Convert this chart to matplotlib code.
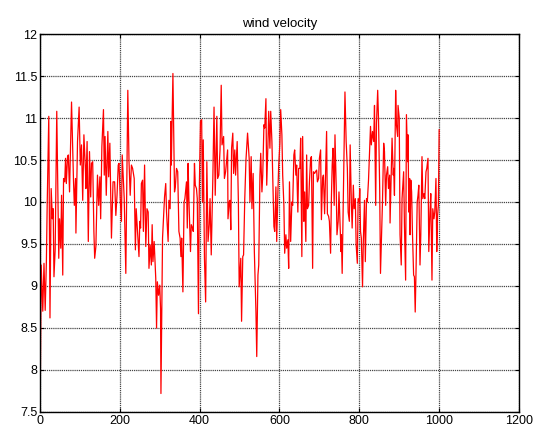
import matplotlib
matplotlib.use('Agg')
import matplotlib.pyplot as plt

plt.rcParams['font.family'] = ['Liberation Sans', 'DejaVu Sans']

# sample index / wind velocity
t = [1, 3, 7, 10, 13, 16, 18, 22, 25, 28, 31, 33, 35, 38, 42, 47, 49, 52, 54, 57,
     59, 62, 64, 66, 69, 71, 74, 79, 84, 86, 89, 90, 94, 98, 101, 104, 107, 110, 114, 115,
     118, 121, 124,
     127, 129, 132, 135, 137, 140, 144, 147, 150, 152, 155, 159, 161, 163, 166, 170, 172, 175, 179, 183,
     187, 190, 193, 196, 198, 201, 204, 206, 211, 215, 220, 223, 226, 229, 232, 236, 239, 241,
     248, 250, 252, 254, 257, 259, 262, 265, 268, 271, 273, 276, 279, 281, 283, 286, 290, 292,
     294, 297, 300, 302, 303, 307, 311, 312, 315, 317, 321, 323, 326, 328, 329, 331, 333, 337,
     339, 342, 345, 348, 351, 353, 355, 358, 361, 363, 367, 369,
     371, 373, 377, 379, 382, 384, 387, 389, 392, 394, 397, 399, 402, 405, 407, 409, 412, 415,
     418, 421, 424, 426, 429, 433, 436, 439, 443, 445, 448, 451, 454, 456, 460, 462, 465, 470,
     471, 474, 476, 478, 480, 483, 485, 488, 490, 494, 497, 499,
     503, 505, 508, 510, 513, 516, 520, 524, 526, 529, 531, 534, 537, 541, 543, 546, 548, 551,
     553, 556, 558, 561, 563, 566, 568, 571, 573, 576, 578, 581, 583, 586, 588, 591, 593, 596,
     598, 601, 603, 606, 608, 611, 613, 616, 618, 621, 623, 625,
     628, 631, 633, 636, 638, 641, 643, 646, 648, 651, 653, 656, 658, 661, 663, 666, 668, 670,
     673, 675, 678, 680, 683, 685, 688, 690, 693, 695, 698, 700, 703, 705, 708, 710, 713, 715,
     718, 720, 723, 725, 728, 730, 732, 734, 737, 739, 742, 744, 747, 749,
     754, 755, 757, 759, 762, 764, 767, 770, 772, 775, 777, 780, 782, 785, 787, 790, 792, 795,
     797, 800, 801, 803, 805, 808, 810, 813, 815, 818, 820, 823, 825, 828, 830, 833, 836, 838,
     841, 843, 846, 848, 851, 853, 856, 858, 861, 863, 866, 868, 871, 873, 876,
     877, 880, 882, 885, 886, 888, 891, 893, 896, 897, 900, 902, 905, 907, 911, 913, 916, 918,
     921, 922, 924, 926, 927, 929, 931, 933, 936, 938, 940, 942, 945, 947, 949, 952, 954, 957,
     959, 962, 964, 967, 969, 972, 974, 977, 979, 982, 984, 987, 989, 992, 994, 996, 998, 1000]

velocity = [7.95, 9.25, 8.70, 9.27, 8.71, 9.29, 9.96, 11.02, 8.62, 10.16, 9.80, 9.92, 9.11, 9.43, 11.08, 9.33, 9.80, 9.45, 10.08, 9.13,
            10.28, 10.24, 10.52, 10.22, 10.54, 10.56, 10.12, 11.19, 10.24, 9.96, 10.28, 9.63, 10.72, 11.13, 10.44, 10.68, 10.02, 10.80, 10.36, 10.16,
            10.72, 9.53, 10.60,
            10.06, 10.46, 10.48, 9.65, 9.33, 9.47, 10.32, 9.96, 10.30, 9.80, 10.66, 11.10, 10.32, 10.78, 10.08, 10.84, 10.30, 10.70, 9.57, 10.24,
            10.24, 9.84, 10.08, 10.44, 10.46, 10.04, 9.77, 10.56, 10.04, 9.15, 11.33, 10.48, 10.08, 10.44, 10.40, 10.28, 9.43, 9.92,
            9.35, 9.77, 9.69, 10.22, 10.26, 9.65, 10.44, 9.47, 9.92, 9.88, 9.21, 9.49, 9.25, 9.73, 9.29, 9.53, 9.09, 8.50,
            9.05, 8.89, 9.01, 8.73, 7.72, 9.57, 9.96, 10.06, 10.22, 9.88, 9.53, 10.02, 9.92, 10.96, 10.44, 10.98, 11.53, 10.12,
            10.18, 10.40, 10.36, 9.65, 9.57, 9.35, 9.57, 8.93, 10.00, 10.04, 10.24, 9.69,
            10.46, 10.04, 9.41, 9.73, 9.69, 9.65, 10.46, 10.20, 10.16, 10.04, 8.67, 10.12, 10.96, 10.98, 10.00, 10.74, 9.33, 8.81,
            10.48, 9.53, 9.73, 10.04, 9.37, 10.28, 11.13, 10.08, 11.02, 10.28, 10.32, 10.62, 11.39, 10.68, 10.78, 10.28, 10.36, 10.62,
            9.80, 10.00, 10.02, 9.67, 10.64, 10.82, 10.34, 10.62, 10.32, 10.72, 10.00, 8.99,
            9.33, 8.58, 9.35, 9.37, 10.04, 10.50, 10.82, 10.52, 10.00, 10.54, 9.92, 10.34, 9.41, 8.69, 8.16, 9.13, 9.25, 10.32,
            10.58, 10.12, 10.32, 10.92, 10.88, 11.23, 10.20, 10.68, 11.08, 10.64, 11.08, 10.72, 10.32, 9.71, 9.65, 10.18, 9.53, 10.12,
            10.44, 10.70, 11.10, 10.80, 10.32, 9.96, 9.39, 9.61, 9.45, 9.55, 9.21, 10.24,
            9.53, 10.00, 9.96, 10.56, 10.62, 10.32, 10.44, 9.88, 10.40, 10.40, 10.76, 9.35, 10.78, 9.77, 10.12, 9.53, 10.56, 9.92,
            9.96, 10.24, 10.52, 10.54, 9.21, 10.36, 10.34, 10.36, 10.38, 10.24, 10.28, 10.52, 10.62, 9.79, 10.28, 10.32, 9.86, 10.26,
            10.84, 9.86, 9.83, 9.77, 9.39, 10.04, 10.44, 10.64, 9.96, 10.80, 10.20, 9.61, 9.77, 10.12,
            9.41, 9.61, 9.15, 9.77, 10.64, 11.31, 10.72, 10.40, 9.88, 9.77, 10.68, 10.00, 9.69, 10.20, 9.92, 10.04, 9.49, 9.27,
            10.04, 10.00, 10.16, 9.65, 9.57, 8.99, 9.53, 10.02, 9.29, 10.04, 10.00, 10.26, 10.52, 10.90, 10.68, 10.84, 10.72, 11.15,
            9.96, 10.94, 11.33, 11.00, 10.16, 9.15, 9.65, 10.00, 10.70, 10.60, 9.96, 10.32, 10.42, 10.16, 10.32,
            9.75, 10.36, 10.76, 10.32, 10.40, 10.08, 11.33, 10.92, 10.78, 11.15, 11.00, 9.61, 9.25, 10.04, 10.36, 9.73, 9.07, 11.04,
            10.48, 10.80, 9.88, 10.28, 9.61, 10.26, 10.12, 9.65, 9.13, 9.11, 8.69, 9.17, 10.00, 10.08, 10.20, 9.25, 9.61, 10.54,
            10.04, 10.10, 10.04, 10.36, 10.40, 10.52, 9.41, 9.88, 10.10, 9.07, 9.92, 9.80, 9.88, 10.28, 9.41, 9.84, 9.96, 10.86]

xticks = [0, 200, 400, 600, 800, 1000, 1200]
yticks = [7.5, 8, 8.5, 9, 9.5, 10, 10.5, 11, 11.5, 12]
ytick_labels = ['7.5', '8', '8.5', '9', '9.5', '10', '10.5', '11', '11.5', '12']

fig = plt.figure(figsize=(5.34, 4.30), dpi=100)
ax = fig.add_axes([0.0749, 0.0419, 0.897, 0.879])

ax.plot(t, velocity, color='red', lw=0.9)

ax.set_xlim(0, 1200)
ax.set_ylim(7.5, 12)
ax.set_xticks(xticks)
ax.set_yticks(yticks)
ax.set_yticklabels(ytick_labels)
ax.tick_params(direction='in', labelsize=9, length=3, width=0.8, top=True, right=True, pad=2)
ax.grid(True, color='0.15', linestyle=(0, (1, 0.7)), linewidth=0.9, alpha=0.85)
for s in ax.spines.values():
    s.set_linewidth(1.0)

ax.set_title('wind velocity', fontsize=9.5, pad=5)

fig.savefig('out.png', dpi=100)
